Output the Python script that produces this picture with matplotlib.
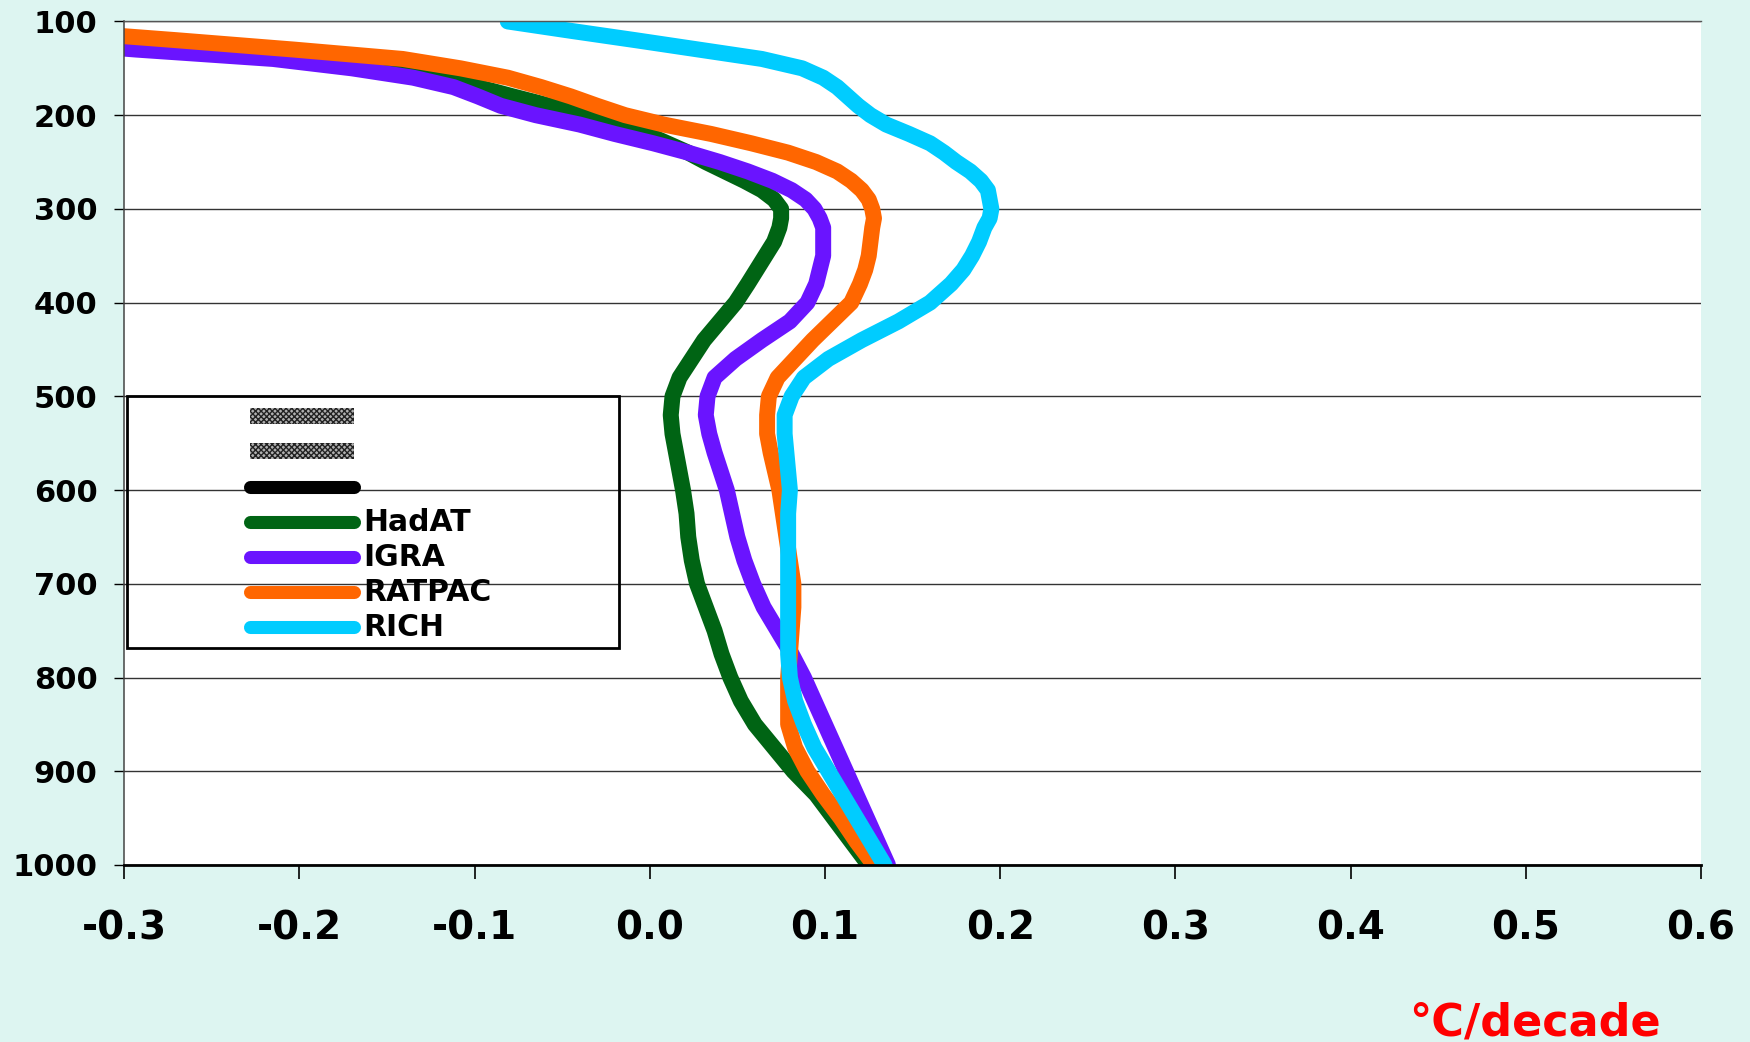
import matplotlib
matplotlib.use('Agg')
import matplotlib.pyplot as plt
from matplotlib.lines import Line2D
from matplotlib.patches import Patch, Rectangle

# pressure levels (hPa) and trends (degC/decade)
pressure = [100, 110, 120, 130, 140, 150, 160, 170, 180, 190, 200, 210, 220,
            230, 240, 250, 260, 270, 280, 290, 300, 310, 320, 335, 350, 365,
            380, 400, 420, 440, 460, 480, 500, 520, 540, 560, 600, 625, 650,
            675, 700, 725, 750, 775, 800, 825, 850, 875, 900, 925, 950, 975,
            1000]

hadat = [-0.47, -0.40, -0.33, -0.26, -0.195, -0.150, -0.120, -0.098, -0.078,
         -0.057, -0.035, -0.016, -0.002, 0.010, 0.022, 0.032, 0.043, 0.054,
         0.064, 0.071, 0.075, 0.075, 0.074, 0.071, 0.066, 0.061, 0.056, 0.049,
         0.040, 0.031, 0.024, 0.017, 0.013, 0.012, 0.013, 0.015, 0.019, 0.021,
         0.022, 0.024, 0.027, 0.032, 0.037, 0.041, 0.046, 0.052, 0.060, 0.071,
         0.082, 0.095, 0.105, 0.115, 0.125]

igra = [-0.50, -0.43, -0.36, -0.293, -0.215, -0.170, -0.135, -0.112, -0.098,
        -0.085, -0.065, -0.040, -0.020, 0.002, 0.022, 0.040, 0.056, 0.070,
        0.081, 0.089, 0.094, 0.097, 0.099, 0.099, 0.099, 0.097, 0.095, 0.090,
        0.080, 0.064, 0.049, 0.037, 0.033, 0.032, 0.034, 0.037, 0.044, 0.047,
        0.050, 0.054, 0.059, 0.065, 0.073, 0.081, 0.088, 0.094, 0.100, 0.106,
        0.112, 0.118, 0.124, 0.130, 0.136]

ratpac = [-0.42, -0.34, -0.27, -0.203, -0.141, -0.108, -0.081, -0.062, -0.045,
          -0.030, -0.014, 0.008, 0.035, 0.058, 0.079, 0.095, 0.107, 0.115,
          0.121, 0.125, 0.127, 0.128, 0.127, 0.126, 0.125, 0.123, 0.120, 0.115,
          0.104, 0.093, 0.083, 0.073, 0.068, 0.067, 0.067, 0.069, 0.074, 0.076,
          0.078, 0.080, 0.082, 0.082, 0.081, 0.080, 0.079, 0.079, 0.079, 0.083,
          0.090, 0.099, 0.109, 0.118, 0.128]

rich = [-0.081, -0.045, -0.008, 0.028, 0.064, 0.087, 0.099, 0.107, 0.113,
        0.119, 0.126, 0.135, 0.148, 0.160, 0.168, 0.175, 0.183, 0.189, 0.193,
        0.194, 0.195, 0.194, 0.191, 0.188, 0.184, 0.179, 0.172, 0.160, 0.142,
        0.121, 0.102, 0.088, 0.081, 0.077, 0.077, 0.078, 0.080, 0.079, 0.079,
        0.079, 0.079, 0.079, 0.079, 0.079, 0.080, 0.083, 0.088, 0.094, 0.102,
        0.110, 0.118, 0.126, 0.134]

names = ['HadAT', 'IGRA', 'RATPAC', 'RICH']
colors = ['#006414', '#6A14FF', '#FF6600', '#00CCFF']

x_ticks = [-0.3, -0.2, -0.1, 0.0, 0.1, 0.2, 0.3, 0.4, 0.5, 0.6]
y_ticks = [100, 200, 300, 400, 500, 600, 700, 800, 900, 1000]

bg = '#DDF5F1'
fig = plt.figure(figsize=(17.5, 10.42), dpi=100, facecolor=bg)
ax = fig.add_axes([0.0709, 0.1699, 0.9011, 0.8095])
ax.set_facecolor('white')

for vals, name, c in zip([hadat, igra, ratpac, rich], names, colors):
    ax.plot(vals, pressure, color=c, lw=11.5, solid_capstyle='round',
            solid_joinstyle='round', label=name)

ax.set_xlim(-0.3, 0.6)
ax.set_ylim(1000, 100)
ax.set_xticks(x_ticks)
ax.set_xticklabels(['%.1f' % t for t in x_ticks])
ax.set_yticks(y_ticks)
ax.yaxis.grid(True, color='#333333', lw=1.0)
ax.set_axisbelow(True)

ax.spines['right'].set_visible(False)
ax.spines['top'].set_color('#555555')
ax.spines['top'].set_linewidth(1.0)
ax.spines['left'].set_color('#444444')
ax.spines['left'].set_linewidth(1.1)
ax.spines['bottom'].set_color('black')
ax.spines['bottom'].set_linewidth(2.0)

ax.tick_params(axis='x', direction='out', length=10, width=1.2, pad=22,
               labelsize=28)
ax.tick_params(axis='y', direction='out', length=7, width=1.0, pad=12,
               labelsize=22)
for lab in ax.get_xticklabels() + ax.get_yticklabels():
    lab.set_fontweight('bold')

# legend: two hatched entries, one black, then the four datasets
handles = [Patch(facecolor='#b0b0b0', edgecolor='#222222', lw=0, hatch='xxxxxx'),
           Patch(facecolor='#b0b0b0', edgecolor='#222222', lw=0, hatch='xxxxxx'),
           Line2D([], [], color='black', lw=9.4, solid_capstyle='round')]
labels = ['', '', '']
for name, c in zip(names, colors):
    handles.append(Line2D([], [], color=c, lw=9.4, solid_capstyle='round'))
    labels.append(name)

leg = ax.legend(handles, labels, loc='upper left', bbox_to_anchor=(0.0796, 0.547),
                frameon=False, borderpad=0, borderaxespad=0, labelspacing=0.2,
                handlelength=3.5, handleheight=0.43, handletextpad=0.3,
                prop={'weight': 'bold', 'size': 21.5})

ax.add_patch(Rectangle((0.0019, 0.2573), 0.312, 0.2987, transform=ax.transAxes,
                       facecolor='none', edgecolor='black', lw=2.0, zorder=5))

fig.text(0.877, 0.0067, '\u00b0C/decade', color='#FF0000', fontsize=32,
         fontweight='bold', ha='center', va='baseline')

fig.savefig('out.png', dpi=100, facecolor=bg)
